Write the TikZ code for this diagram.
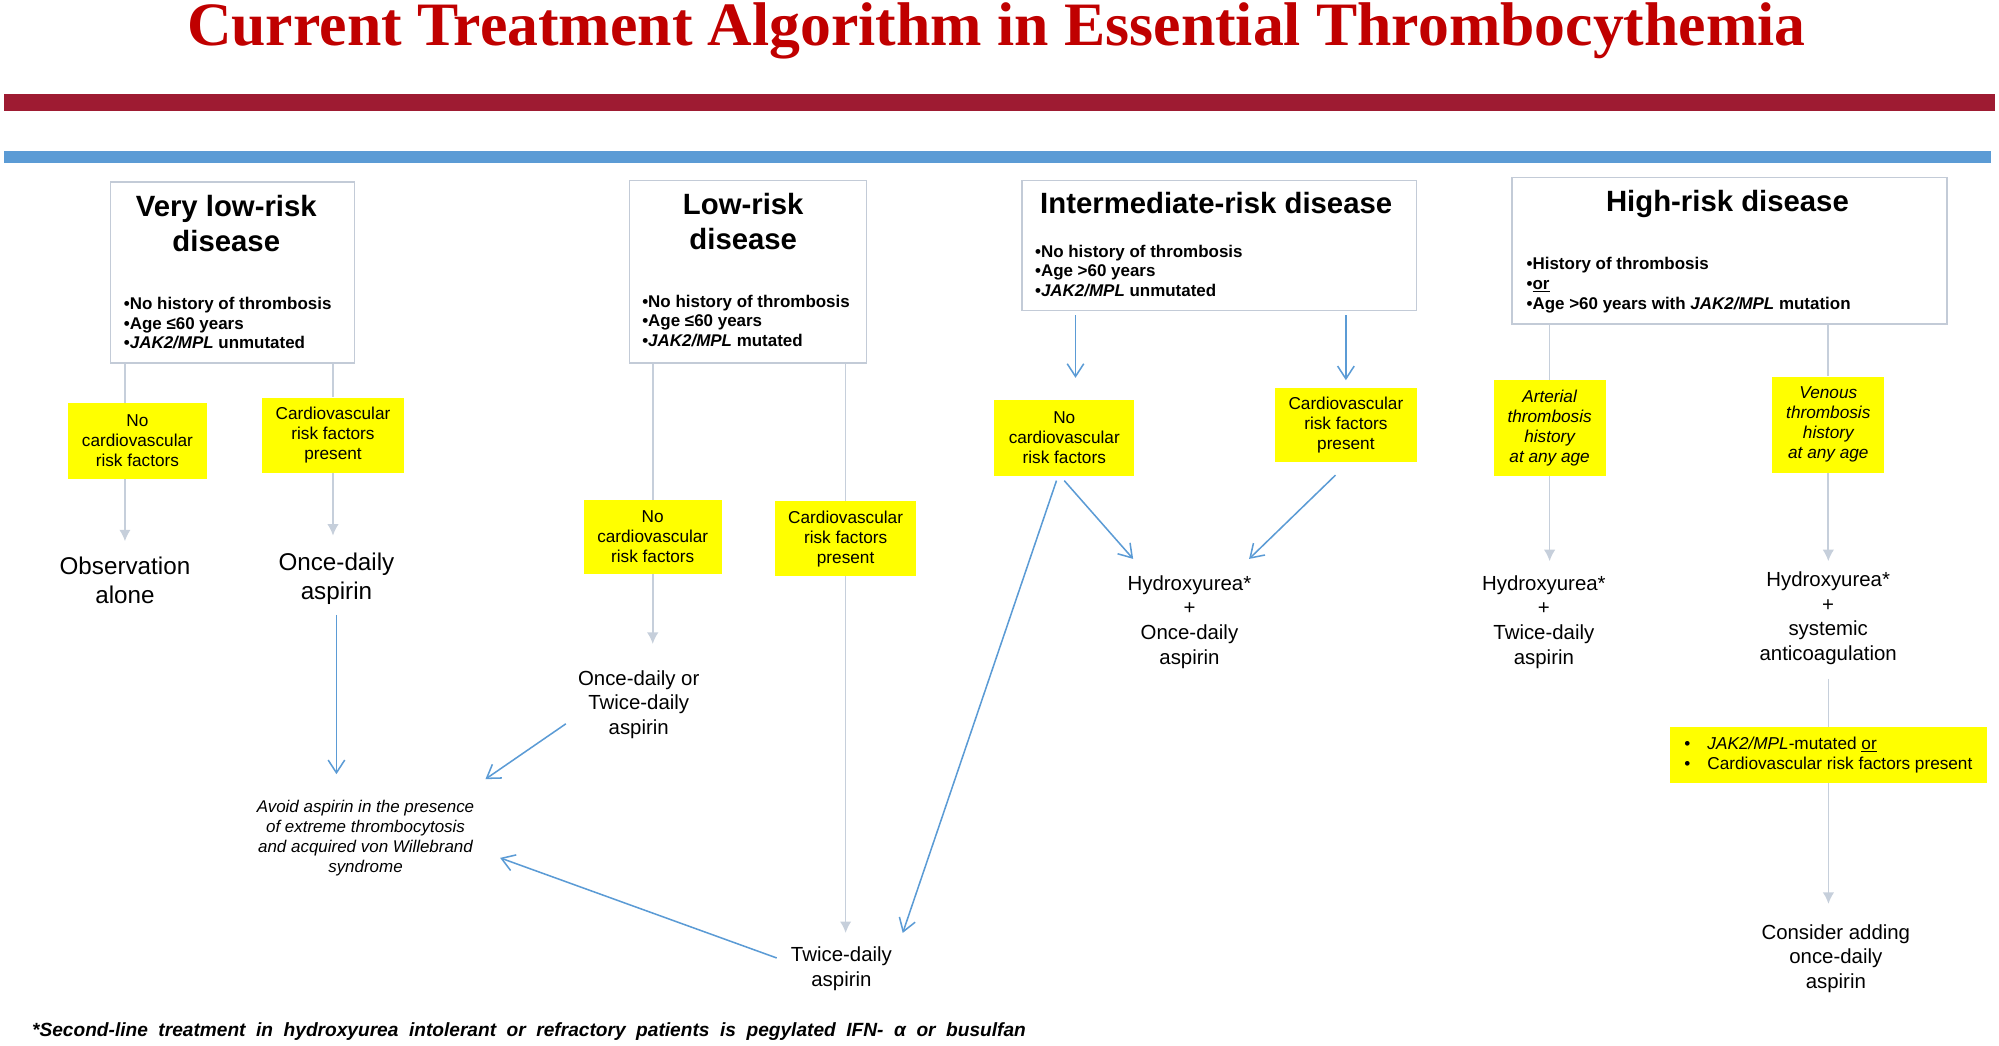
\documentclass[tikz,border=0pt]{standalone}
\usepackage{fontspec}
\setmainfont{Liberation Sans}
\newfontfamily\titleserif{Liberation Serif}
\usetikzlibrary{arrows.meta,positioning}

\definecolor{titlered}{HTML}{C00000}
\definecolor{barred}{HTML}{9E1B32}
\definecolor{barblue}{HTML}{5B9BD5}
\definecolor{boxgray}{HTML}{C3CBD7}
\definecolor{arrowgray}{HTML}{C6CFDB}
\definecolor{lineblue}{HTML}{5B9BD5}
\definecolor{factoryellow}{HTML}{FFFF00}

\newcommand\headsize{\fontsize{23}{27.4}\selectfont}
\newcommand\critsize{\fontsize{13.3}{15.4}\selectfont}
\newcommand\factorsize{\fontsize{13.5}{15.7}\selectfont}
\newcommand\outsize{\fontsize{16}{19.3}\selectfont}
\newcommand\bigoutsize{\fontsize{19}{22.7}\selectfont}
\newcommand\avoidsize{\fontsize{13.3}{15.7}\selectfont}
\newcommand\notesize{\fontsize{15}{17}\selectfont}

\tikzstyle{riskbox}=[draw=boxgray, line width=1.2pt, anchor=north west, inner sep=0pt]
\tikzstyle{riskhead}=[font=\headsize\bfseries, align=center, anchor=base, inner sep=0pt]
\tikzstyle{criteria}=[font=\critsize\bfseries, align=left, anchor=base west, inner sep=0pt]
\tikzstyle{factor}=[fill=factoryellow, align=center, font=\factorsize, inner sep=0pt]
\tikzstyle{outcome}=[align=center, anchor=base, inner sep=2pt, font=\outsize]
\tikzstyle{grayline}=[draw, line width=1.3pt, color=arrowgray]
\tikzstyle{grayarrow}=[grayline, -{Latex[length=9pt,width=9pt]}]
\tikzstyle{blueline}=[draw, line width=1.2pt, color=lineblue, -{Straight Barb[length=10pt,width=13pt]}]

\begin{document}
\begin{tikzpicture}[x=1pt,y=-1pt]
  \useasboundingbox (0,0) rectangle (1568,819.7);

  % title and bars
  \path (781.5,35.3) node (title) [anchor=base, inner sep=0pt, text=titlered,
    font={\titleserif\bfseries\fontsize{48.4}{50}\selectfont}]
    {Current Treatment Algorithm in Essential Thrombocythemia};
  \fill[barred] (3,74) rectangle (1565,87);
  \fill[barblue] (3,118.4) rectangle (1562,128);

  % risk groups (text nodes sit on the baseline of their last line)
  \path (86,142) node (vlow) [riskbox, minimum width=191.5pt, minimum height=142pt] {};
  \path (vlow.north west)+(91.5,55.3) node (vlowhead) [riskhead] {Very low-risk\\disease};
  \path (vlow.north west)+(11,131.6) node (vlowlist) [criteria]
    {•No history of thrombosis\\•Age ≤60 years\\•\textit{JAK2/MPL} unmutated};

  \path (493,141) node (low) [riskbox, minimum width=186pt, minimum height=143pt] {};
  \path (low.north west)+(90,55) node (lowhead) [riskhead] {Low-risk\\disease};
  \path (low.north west)+(10.6,130.8) node (lowlist) [criteria]
    {•No history of thrombosis\\•Age ≤60 years\\•\textit{JAK2/MPL} mutated};

  \path (801,141) node (inter) [riskbox, minimum width=309.5pt, minimum height=102pt] {};
  \path (inter.north west)+(153,26.8) node (interhead) [riskhead] {Intermediate-risk disease};
  \path (inter.north west)+(10.7,91.6) node (interlist) [criteria]
    {•No history of thrombosis\\•Age >60 years\\•\textit{JAK2/MPL} unmutated};

  \path (1185.5,138.5) node (high) [riskbox, minimum width=341pt, minimum height=115pt] {};
  \path (high.north west)+(169.5,27.5) node (highhead) [riskhead] {High-risk disease};
  \path (high.north west)+(11.8,104) node (highlist) [criteria]
    {•History of thrombosis\\•\underline{or}\\•Age >60 years with \textit{JAK2/MPL} mutation};

  % yellow conditions
  \path (107.8,346) node (vlowno) [factor, minimum width=108.4pt, minimum height=59.6pt]
    {No\\cardiovascular\\risk factors};
  \path (261.2,341.4) node (vlowyes) [factor, minimum width=111.5pt, minimum height=59.2pt]
    {Cardiovascular\\risk factors\\present};
  \path (512,421) node (lowno) [factor, minimum width=108pt, minimum height=58pt]
    {No\\cardiovascular\\risk factors};
  \path (663.3,422.5) node (lowyes) [factor, minimum width=110.6pt, minimum height=58.3pt]
    {Cardiovascular\\risk factors\\present};
  \path (834.8,343.4) node (interno) [factor, minimum width=109.5pt, minimum height=59.6pt]
    {No\\cardiovascular\\risk factors};
  \path (1055.7,333.5) node (interyes) [factor, minimum width=111.3pt, minimum height=58.1pt]
    {Cardiovascular\\risk factors\\present};
  \path (1215.5,335.6) node (arterial) [factor, font=\factorsize\itshape,
    minimum width=87.7pt, minimum height=75.2pt] {Arterial\\thrombosis\\history\\at any age};
  \path (1434.1,333.2) node (venous) [factor, font=\factorsize\itshape,
    minimum width=87.8pt, minimum height=75.7pt] {Venous\\thrombosis\\history\\at any age};
  \path (1434.2,592.1) node (venextra) [factor, align=left,
    minimum width=248.4pt, minimum height=43.8pt]
    {\makebox[18pt][l]{•}\textit{JAK2/MPL}-mutated \underline{or}\\
     \makebox[18pt][l]{•}Cardiovascular risk factors present};

  % treatments
  \path (98,473) node (obs) [outcome, font=\bigoutsize] {Observation\\alone};
  \path (263.9,470.4) node (vlowasp) [outcome, font=\bigoutsize] {Once-daily\\aspirin};
  \path (501,576.2) node (lowasp) [outcome] {Once-daily or\\Twice-daily\\aspirin};
  \path (286.7,684.7) node (avoid) [outcome, font=\avoidsize\itshape]
    {Avoid aspirin in the presence\\of extreme thrombocytosis\\and acquired von Willebrand\\syndrome};
  \path (660,773.5) node (twice) [outcome] {Twice-daily\\aspirin};
  \path (933,520.9) node (hu1) [outcome] {Hydroxyurea*\\+\\Once-daily\\aspirin};
  \path (1211,520.9) node (hu2) [outcome] {Hydroxyurea*\\+\\Twice-daily\\aspirin};
  \path (1434,517.9) node (hu3) [outcome] {Hydroxyurea*\\+\\systemic\\anticoagulation};
  \path (1440,775.2) node (consider) [outcome] {Consider adding\\once-daily\\aspirin};

  \path (25,812.7) node (footnote) [anchor=base west, inner sep=0pt, font=\notesize\bfseries\itshape]
    {\makebox[779.5pt][s]{*Second-line treatment in hydroxyurea intolerant or refractory patients is pegylated IFN- α or busulfan}};

  % gray connectors
  \path [grayline] (obs.north |- vlow.south) -- (obs.north |- vlowno.north);
  \path [grayarrow, shorten >=9.8pt] (obs.north |- vlowno.south) -- (obs.north);
  \path [grayline] (vlowyes.north |- vlow.south) -- (vlowyes.north);
  \path [grayarrow, shorten >=11.6pt] (vlowyes.south) -- (vlowyes.south |- vlowasp.north);
  \path [grayline] (lowno.north |- low.south) -- (lowno.north);
  \path [grayarrow, shorten >=18.7pt] (lowno.south) -- (lowno.south |- lowasp.north);
  \path [grayline] (lowyes.north |- low.south) -- (lowyes.north);
  \path [grayarrow, shorten >=8.6pt] (lowyes.south) -- (lowyes.south |- twice.north);
  \path [grayline] (arterial.north |- high.south) -- (arterial.north);
  \path [grayarrow, shorten >=9pt] (arterial.south) -- (arterial.south |- hu2.north);
  \path [grayline] (venous.north |- high.south) -- (venous.north);
  \path [grayarrow, shorten >=6pt] (venous.south) -- (venous.south |- hu3.north);
  \path [grayline, shorten <=8.9pt] (venextra.north |- hu3.south) -- (venextra.north);
  \path [grayarrow, shorten >=13.8pt] (venextra.south) -- (venextra.south |- consider.north);

  % blue connectors
  \path [blueline, shorten <=5.8pt, shorten >=18.5pt] (vlowasp.south) -- (vlowasp.south |- avoid.north);
  \path [blueline] ([shift={(-7.4,15)}]lowasp.west) -- ([shift={(6.6,-14.6)}]avoid.north east);
  \path [blueline] ([shift={(-9,-8.3)}]twice.west) -- ([shift={(18.1,15.2)}]avoid.east);
  \path [blueline, shorten <=3pt, shorten >=17pt] ([xshift=8.8pt]interno.north |- inter.south) -- ([xshift=8.8pt]interno.north);
  \path [blueline, shorten <=3pt, shorten >=6pt] (interyes.north |- inter.south) -- (interyes.north);
  \path [blueline] ([yshift=-3.6pt]interno.south) -- ([shift={(6.5,-10.8)}]hu1.north west);
  \path [blueline] ([shift={(-8.1,9.9)}]interyes.south) -- ([shift={(-3.9,-10.8)}]hu1.north east);
  \path [blueline] ([shift={(-6.1,3.6)}]interno.south) -- ([shift={(6.3,-8.6)}]twice.north east);
\end{tikzpicture}
\end{document}
